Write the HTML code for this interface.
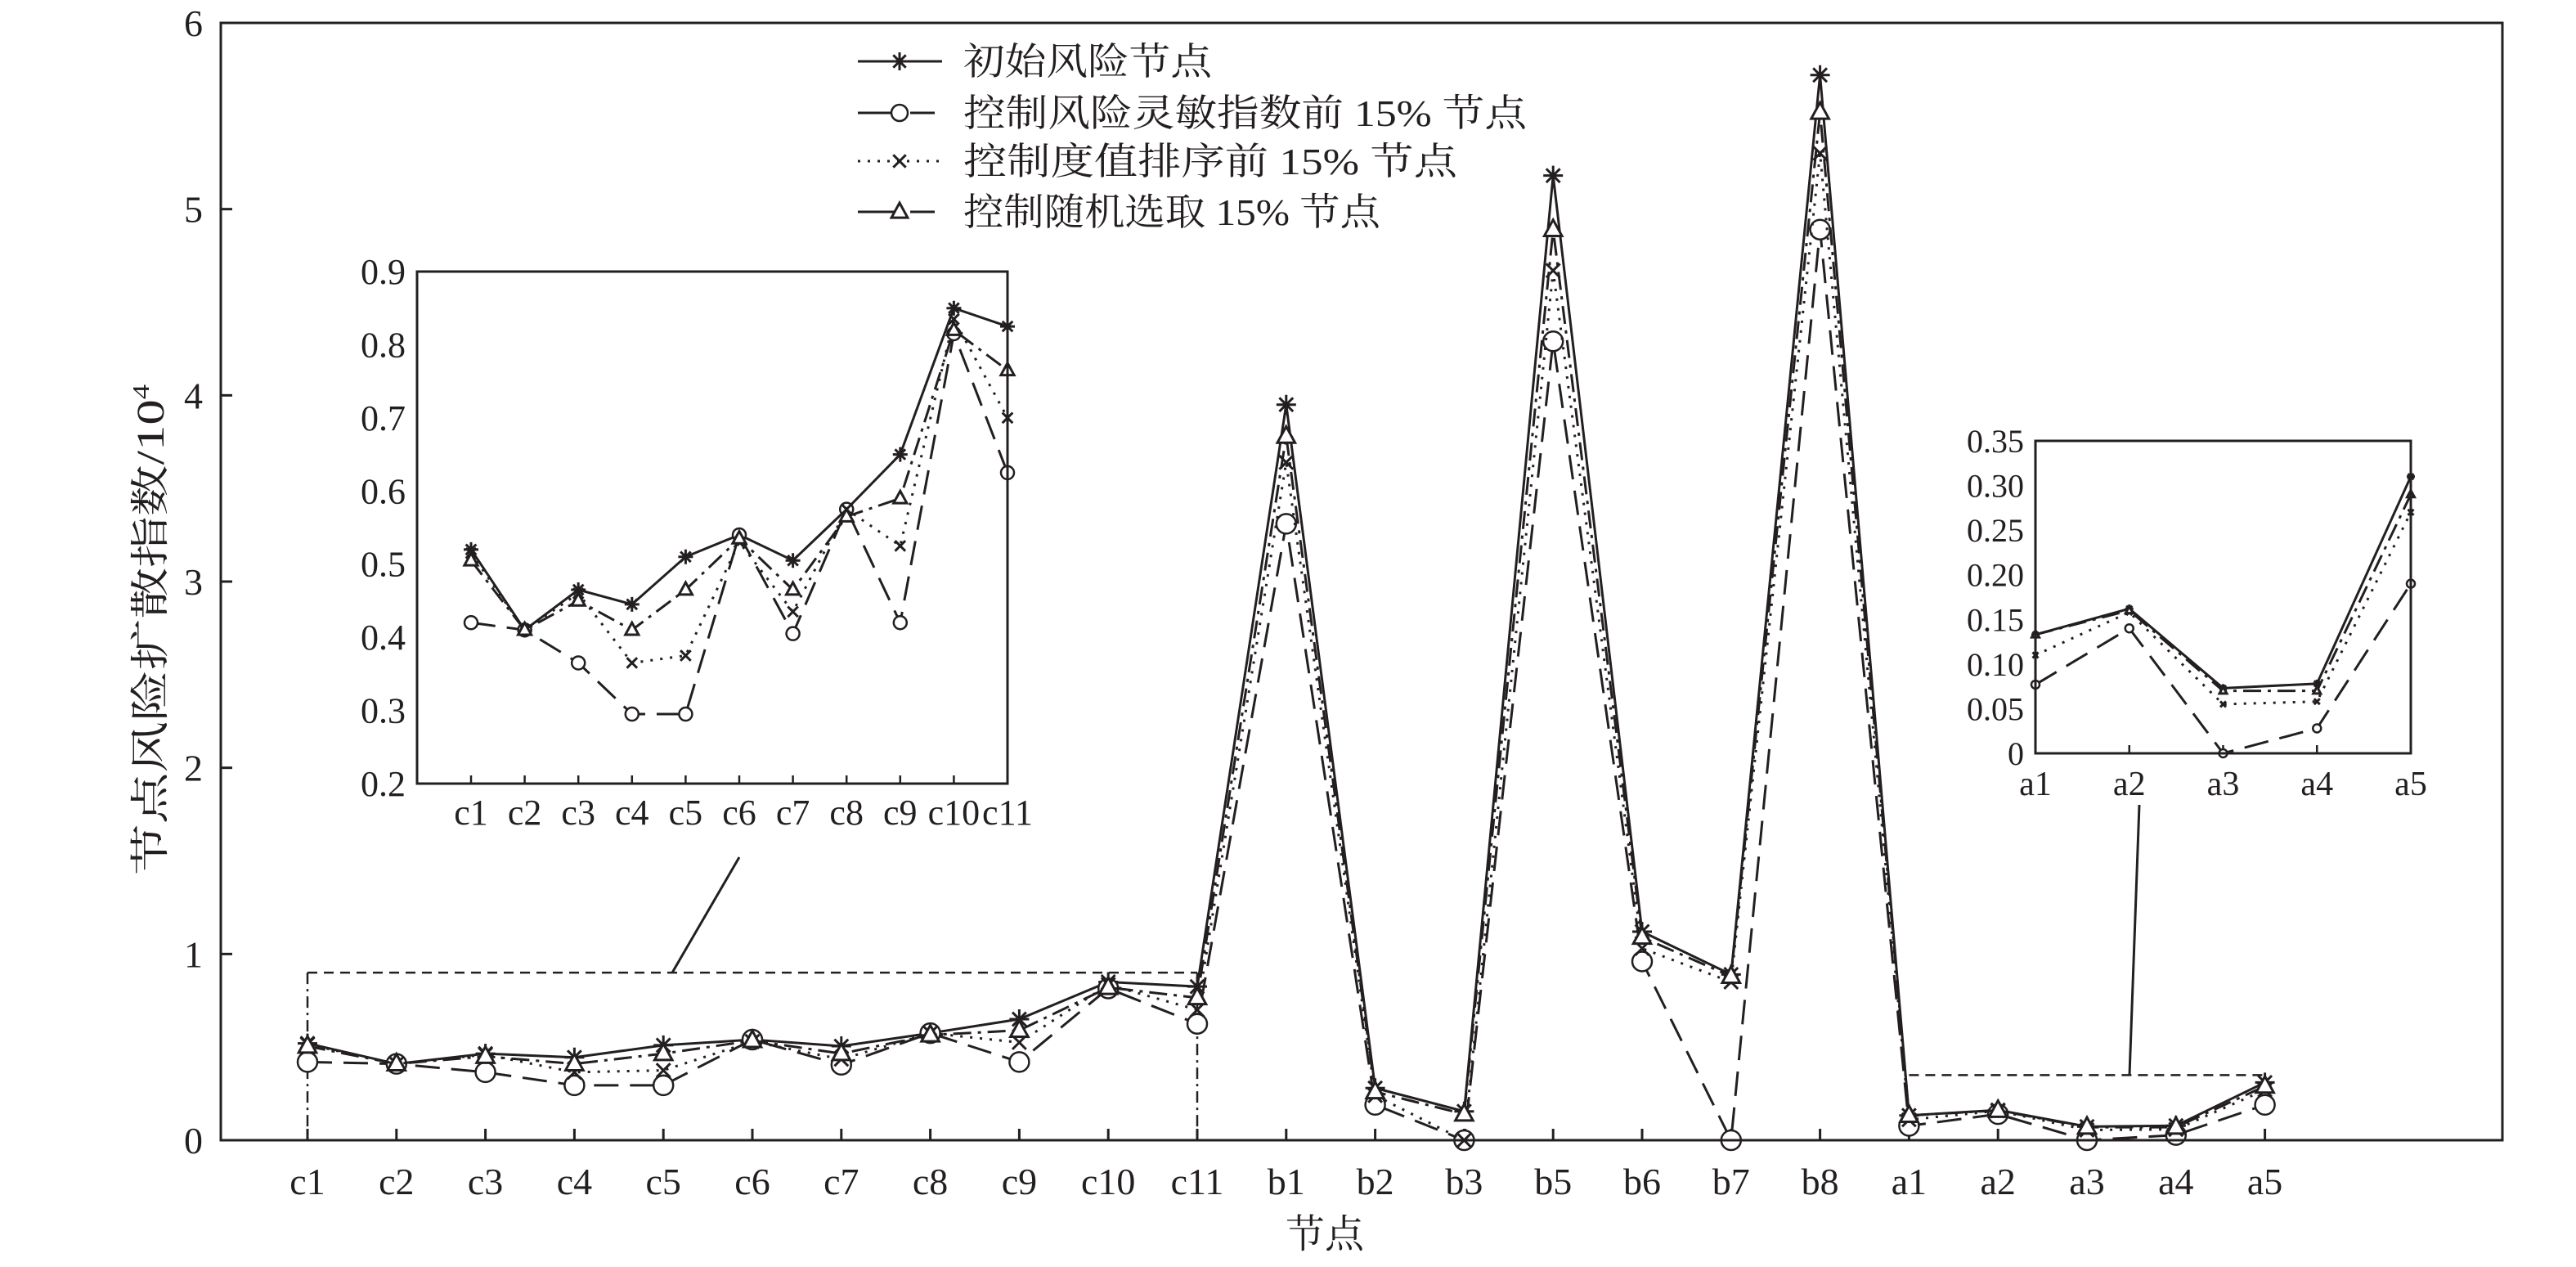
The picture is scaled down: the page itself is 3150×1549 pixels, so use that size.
<!DOCTYPE html>
<html><head><meta charset="utf-8"><style>
html,body{margin:0;padding:0;background:#fff;}
svg{display:block;}
text{font-family:"Liberation Serif","Noto Serif CJK SC",serif;fill:#231f20;}
</style></head><body>
<svg id="chart" width="3150" height="1549" viewBox="0 0 3150 1549" xmlns="http://www.w3.org/2000/svg">
<g id="main"></g>
<g id="inset1"></g>
<g id="inset2"></g>
<g id="legend"></g>
</svg>
<script>
const categories = ["c1","c2","c3","c4","c5","c6","c7","c8","c9","c10","c11","b1","b2","b3","b5","b6","b7","b8","a1","a2","a3","a4","a5"];
const initialRisk = [0.52,0.41,0.465,0.445,0.51,0.54,0.505,0.575,0.65,0.85,0.825,3.95,0.28,0.155,5.18,1.12,0.89,5.72,0.133,0.162,0.073,0.078,0.31];
const sensitivityTop = [0.42,0.41,0.365,0.295,0.295,0.54,0.405,0.575,0.42,0.815,0.625,3.31,0.19,0,4.29,0.96,0,4.89,0.077,0.14,0,0.028,0.19];
const degreeTop = [0.515,0.41,0.46,0.365,0.375,0.53,0.435,0.575,0.525,0.835,0.70,3.64,0.24,0,4.67,1.03,0.85,5.30,0.11,0.158,0.055,0.058,0.27];
const randomPick = [0.505,0.41,0.45,0.41,0.465,0.535,0.465,0.565,0.59,0.82,0.765,3.78,0.26,0.14,4.89,1.09,0.88,5.52,0.133,0.16,0.07,0.07,0.29];
const yTicks = [0,1,2,3,4,5,6];
const inset1Ticks = ["0.2","0.3","0.4","0.5","0.6","0.7","0.8","0.9"];
const inset2Ticks = ["0","0.05","0.10","0.15","0.20","0.25","0.30","0.35"];
const legendLabels = ["初始风险节点","控制风险灵敏指数前 15% 节点","控制度值排序前 15% 节点","控制随机选取 15% 节点"];

const NS="http://www.w3.org/2000/svg";
const INK="#231f20";
function mk(parent,tag,attrs){const e=document.createElementNS(NS,tag);for(const k in attrs)e.setAttribute(k,attrs[k]);parent.appendChild(e);return e;}
const series=[
 {vals:initialRisk,dash:"none",marker:"star",name:"series-initial-risk"},
 {vals:sensitivityTop,dash:"30 14",marker:"circle",name:"series-sensitivity-top15"},
 {vals:degreeTop,dash:"3 9",marker:"x",name:"series-degree-top15"},
 {vals:randomPick,dash:"22 8 4 8",marker:"tri",name:"series-random-15"}
];
function marker(g,type,x,y,s){
  let e;
  if(type==="star"){
    e=mk(g,"path",{d:`M${x-s} ${y}H${x+s}M${x} ${y-s}V${y+s}M${x-s*0.7} ${y-s*0.7}L${x+s*0.7} ${y+s*0.7}M${x-s*0.7} ${y+s*0.7}L${x+s*0.7} ${y-s*0.7}`,stroke:INK,"stroke-width":3,fill:"none"});
  }else if(type==="circle"){
    e=mk(g,"circle",{cx:x,cy:y,r:s,stroke:INK,"stroke-width":2.5,fill:"#fff"});
  }else if(type==="x"){
    const t=s*0.7;
    e=mk(g,"path",{d:`M${x-t} ${y-t}L${x+t} ${y+t}M${x-t} ${y+t}L${x+t} ${y-t}`,stroke:INK,"stroke-width":3,fill:"none"});
  }else{
    e=mk(g,"path",{d:`M${x} ${y-s}L${x+s*0.9} ${y+s*0.65}L${x-s*0.9} ${y+s*0.65}Z`,stroke:INK,"stroke-width":3,fill:"#fff"});
  }
  
  
}
function drawSeries(g,xs,ys,idxs,vals,s,ms){
  const pts=idxs.map(i=>[xs(i),ys(vals[i])]);
  const p=mk(g,"polyline",{points:pts.map(q=>q.join(",")).join(" "),fill:"none",stroke:INK,"stroke-width":3,"stroke-dasharray":s.dash});
  
  
  pts.forEach(q=>marker(g,s.marker,q[0],q[1],ms));
}

// main plot
const M={l:270,r:3060,t:28,b:1394};
const mx=i=>376+i*54.4*2;
const my=v=>M.b-v*(M.b-M.t)/6;
const main=document.getElementById("main");
yTicks.forEach(v=>{
  const y=my(v);
  const t=mk(main,"line",{x1:M.l,x2:M.l+14,y1:y,y2:y,stroke:INK,"stroke-width":3});
  
  const tx=mk(main,"text",{x:M.l-22,y:y+16,"font-size":46,"text-anchor":"end"});tx.textContent=v;
  
});
categories.forEach((c,i)=>{
  const x=mx(i);
  const t=mk(main,"line",{x1:x,x2:x,y1:M.b,y2:M.b-14,stroke:INK,"stroke-width":3});
  
  const tx=mk(main,"text",{x:x,y:1460,"font-size":46,"text-anchor":"middle"});tx.textContent=c;
  
});
const cIdx=[...Array(11).keys()], aIdx=[18,19,20,21,22];
let gd=mk(main,"path",{d:`M${mx(0)} ${my(0.9)}H${mx(10)}`,stroke:INK,"stroke-width":2.5,"stroke-dasharray":"12 8",fill:"none"});

gd=mk(main,"path",{d:`M${mx(0)} ${my(0.9)}V${M.b}M${mx(10)} ${my(0.9)}V${M.b}`,stroke:INK,"stroke-width":2.5,"stroke-dasharray":"14 6 3 6",fill:"none"});

gd=mk(main,"line",{x1:822,y1:my(0.9),x2:904,y2:1048,stroke:INK,"stroke-width":3});

gd=mk(main,"path",{d:`M${mx(18)} ${my(0.35)}H${mx(22)}`,stroke:INK,"stroke-width":2.5,"stroke-dasharray":"12 8",fill:"none"});

gd=mk(main,"line",{x1:2604,y1:my(0.35),x2:2616,y2:984,stroke:INK,"stroke-width":3});

const allIdx=[...categories.keys()];
series.forEach(s=>drawSeries(main,mx,my,allIdx,s.vals,s,12));
let fr=mk(main,"rect",{x:M.l,y:M.t,width:M.r-M.l,height:M.b-M.t,fill:"none",stroke:INK,"stroke-width":3});

let tt=mk(main,"text",{x:1620,y:1525,"font-size":48,"text-anchor":"middle"});tt.textContent="节点";

tt=mk(main,"text",{x:0,y:0,"font-size":48,"text-anchor":"middle",textLength:600,lengthAdjust:"spacingAndGlyphs",transform:"translate(200,770) rotate(-90)"});
tt.innerHTML='节点风险扩散指数/10<tspan font-size="28" dy="-18">4</tspan>';


// inset 1
const I1={l:510,r:1232,t:332,b:958};
const i1x=k=>576+k*65.6;
const i1y=v=>I1.b-(v-0.2)*(I1.b-I1.t)/0.7;
const ins1=document.getElementById("inset1");
mk(ins1,"rect",{x:I1.l,y:I1.t,width:I1.r-I1.l,height:I1.b-I1.t,fill:"#fff",stroke:"none"});
inset1Ticks.forEach(l=>{
  const y=i1y(parseFloat(l));
  const tx=mk(ins1,"text",{x:I1.l-14,y:y+15,"font-size":44,"text-anchor":"end"});tx.textContent=l;
  
});
cIdx.forEach(k=>{
  const x=i1x(k);
  mk(ins1,"line",{x1:x,x2:x,y1:I1.b,y2:I1.b-10,stroke:INK,"stroke-width":2.5});
  const tx=mk(ins1,"text",{x:x,y:1008,"font-size":44,"text-anchor":"middle"});tx.textContent=categories[k];
  
});
series.forEach(s=>drawSeries(ins1,i1x,i1y,cIdx,s.vals,s,s.marker==="circle"?8:9));
fr=mk(ins1,"rect",{x:I1.l,y:I1.t,width:I1.r-I1.l,height:I1.b-I1.t,fill:"none",stroke:INK,"stroke-width":3});


// inset 2
const I2={l:2489,r:2948,t:539,b:921};
const i2x=k=>I2.l+(k-18)*(I2.r-I2.l)/4;
const i2y=v=>I2.b-v*(I2.b-I2.t)/0.35;
const ins2=document.getElementById("inset2");
mk(ins2,"rect",{x:I2.l,y:I2.t,width:I2.r-I2.l,height:I2.b-I2.t,fill:"#fff",stroke:"none"});
inset2Ticks.forEach(l=>{
  const y=i2y(parseFloat(l));
  const tx=mk(ins2,"text",{x:I2.l-14,y:y+14,"font-size":40,"text-anchor":"end"});tx.textContent=l;
  
});
aIdx.forEach(k=>{
  const x=i2x(k);
  mk(ins2,"line",{x1:x,x2:x,y1:I2.b,y2:I2.b-10,stroke:INK,"stroke-width":2.5});
  const tx=mk(ins2,"text",{x:x,y:972,"font-size":42,"text-anchor":"middle"});tx.textContent=categories[k];
  
});
series.forEach(s=>drawSeries(ins2,i2x,i2y,aIdx,s.vals,s,5));
fr=mk(ins2,"rect",{x:I2.l,y:I2.t,width:I2.r-I2.l,height:I2.b-I2.t,fill:"none",stroke:INK,"stroke-width":3});


// legend
const lg=document.getElementById("legend");
const legendY=[75,138,197,259];
const legendW=[304,689,604,510];
legendLabels.forEach((l,k)=>{
  const y=legendY[k];
  const s=series[k];
  const ln=mk(lg,"line",{x1:1049,x2:1152,y1:y,y2:y,stroke:INK,"stroke-width":3,"stroke-dasharray":s.dash==="none"?"none":(k===2?"3 9":"50 14 30")});
  
  marker(lg,s.marker,1100,y,s.marker==="circle"?10:11);
  const tx=mk(lg,"text",{x:1178,y:y+16,"font-size":46,textLength:legendW[k],lengthAdjust:"spacingAndGlyphs"});tx.textContent=l;
  
});
</script>
</body></html>
